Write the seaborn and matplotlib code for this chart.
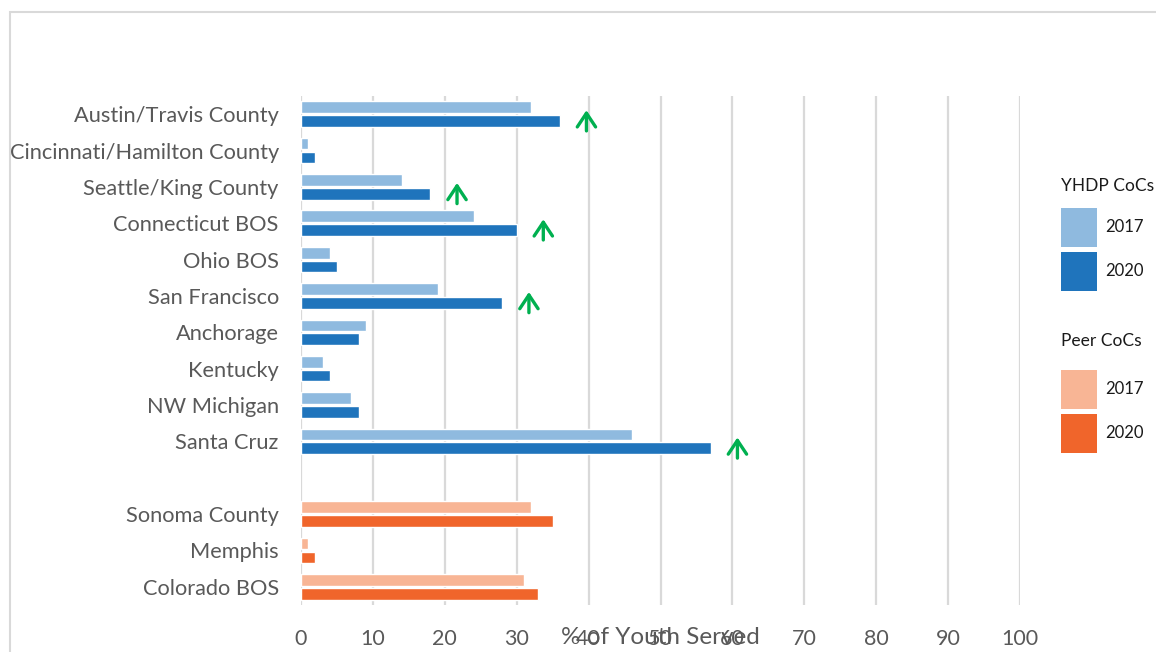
import numpy as np
import pandas as pd
import matplotlib
matplotlib.use("Agg")
import matplotlib.pyplot as plt
from matplotlib.patches import Patch, Rectangle
import seaborn as sns

# ---------------- data ----------------
yhdp_names = ["Austin/Travis County", "Cincinnati/Hamilton County", "Seattle/King County",
              "Connecticut BOS", "Ohio BOS", "San Francisco", "Anchorage", "Kentucky",
              "NW Michigan", "Santa Cruz"]
yhdp_2017 = [32, 1, 14, 24, 4, 19, 9, 3, 7, 46]
yhdp_2020 = [36, 2, 18, 30, 5, 28, 8, 4, 8, 57]
yhdp_increase = ["Austin/Travis County", "Seattle/King County", "Connecticut BOS",
                 "San Francisco", "Santa Cruz"]

peer_names = ["Sonoma County", "Memphis", "Colorado BOS"]
peer_2017 = [32, 1, 31]
peer_2020 = [35, 2, 33]

years = ["2017", "2020"]
x_ticks = [0, 10, 20, 30, 40, 50, 60, 70, 80, 90, 100]
x_label = "% of Youth Served"
legend_titles = ["YHDP CoCs", "Peer CoCs"]

# ---------------- style ----------------
sns.set_theme(style="white")
plt.rcParams["font.family"] = ["Lato", "DejaVu Sans"]

light_blue, dark_blue = "#8FBADF", "#1F74BC"
light_orange, dark_orange = "#F8B595", "#F0652B"
green = "#00B050"
grid_c = "#D9D9D9"
text_c = "#595959"

W, H = 1156, 652
fig = plt.figure(figsize=(W / 100, H / 100), dpi=100)
ax = fig.add_axes([301 / W, 1 - 605 / H, (1020 - 301) / W, (605 - 96) / H])

gap_label = " "
order = yhdp_names + [gap_label] + peer_names

yhdp_df = pd.DataFrame({
    "name": yhdp_names * 2,
    "year": [years[0]] * len(yhdp_names) + [years[1]] * len(yhdp_names),
    "value": yhdp_2017 + yhdp_2020,
})
peer_df = pd.DataFrame({
    "name": peer_names * 2,
    "year": [years[0]] * len(peer_names) + [years[1]] * len(peer_names),
    "value": peer_2017 + peer_2020,
})

common = dict(y="name", x="value", hue="year", order=order, hue_order=years,
              orient="h", width=0.76, gap=0.15, legend=False, ax=ax,
              saturation=1, errorbar=None)
sns.barplot(data=yhdp_df, palette=[light_blue, dark_blue], **common)
sns.barplot(data=peer_df, palette=[light_orange, dark_orange], **common)

ax.set_xlim(0, 100)
ax.set_ylim(len(order) - 0.5, -0.5)
ax.set_xticks(x_ticks)
ax.grid(axis="x", color=grid_c, lw=1.6)
ax.grid(axis="y", visible=False)
ax.set_axisbelow(True)
for s in ax.spines.values():
    s.set_visible(False)

ax.tick_params(axis="y", length=0, pad=16, labelsize=15.7, labelcolor=text_c)
ax.tick_params(axis="x", length=0, pad=17, labelsize=15.5, labelcolor=text_c)
ax.set_ylabel("")
ax.set_xlabel(x_label, fontsize=17.5, color=text_c)
ax.xaxis.set_label_coords((660 - 301) / (1020 - 301), (605 - 638) / (605 - 96))
ax.xaxis.label.set_va("center")

# green increase arrows next to the 2020 bars
for name in yhdp_increase:
    i = order.index(name)
    v = yhdp_2020[yhdp_names.index(name)]
    xa = v + 3.7
    yc = i + 0.19
    ax.annotate("", xy=(xa, yc - 0.3), xytext=(xa, yc + 0.27),
                arrowprops=dict(arrowstyle="->,head_length=0.45,head_width=0.3",
                                color=green, lw=2.4,
                                mutation_scale=22, shrinkA=0, shrinkB=0),
                annotation_clip=False)

# legends
leg_kw = dict(frameon=False, fontsize=12, title_fontsize=12.5, handlelength=2.16,
              handleheight=3.22, handletextpad=0.5, labelspacing=0.3,
              borderaxespad=0, borderpad=0, alignment="left", labelcolor="#1a1a1a")
h1 = [Patch(facecolor=light_blue, edgecolor="none"), Patch(facecolor=dark_blue, edgecolor="none")]
h2 = [Patch(facecolor=light_orange, edgecolor="none"), Patch(facecolor=dark_orange, edgecolor="none")]
leg1 = fig.legend(h1, years, title=legend_titles[0], loc="upper left",
                  bbox_to_anchor=(1061 / W, 1 - 178 / H), **leg_kw)
leg2 = fig.legend(h2, years, title=legend_titles[1], loc="upper left",
                  bbox_to_anchor=(1061 / W, 1 - 333 / H), **leg_kw)
for lg, sep in ((leg1, 10), (leg2, 15)):
    lg.get_title().set_color("#1a1a1a")
    lg._legend_box.sep = sep

# outer chart frame
fig.add_artist(Rectangle((10 / W, -0.1), 1.2, 1 - 12 / H + 0.1, transform=fig.transFigure,
                         fill=False, edgecolor=grid_c, lw=1.5))

fig.savefig("out.png", dpi=100)
